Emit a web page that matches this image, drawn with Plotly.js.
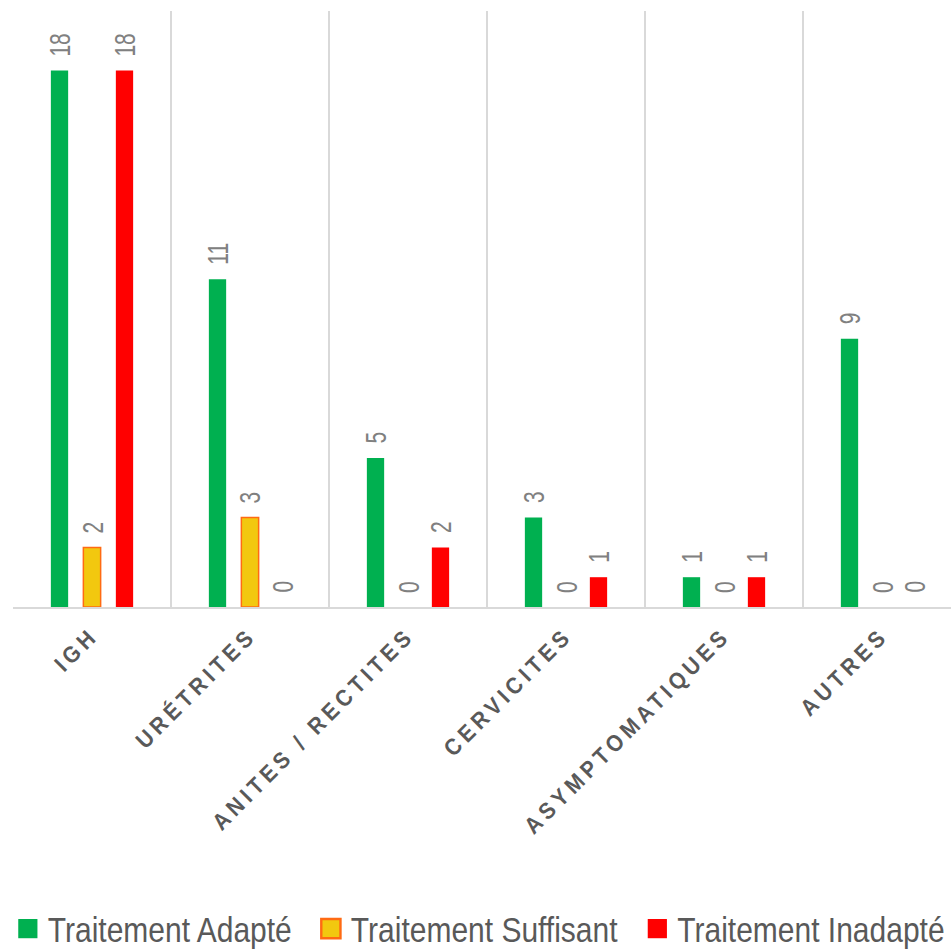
<!DOCTYPE html>
<html>
<head>
<meta charset="utf-8">
<script src="https://cdn.plot.ly/plotly-3.0.1.min.js"></script>
<style>
  html, body { margin: 0; padding: 0; background: #ffffff; overflow: hidden; }
  #chart { width: 961px; height: 950px; }
  /* spaced-out capitals on the category labels */
  .xtick text { letter-spacing: 4.5px; }
</style>
</head>
<body>
<div id="chart"></div>
<script>
// Categories (x axis) and the three treatment series
const categories = ['IGH', 'URÉTRITES', 'ANITES / RECTITES', 'CERVICITES', 'ASYMPTOMATIQUES', 'AUTRES'];
const adapte    = [18, 11, 5, 3, 1, 9];
const suffisant = [2, 3, 0, 0, 0, 0];
const inadapte  = [18, 0, 2, 1, 1, 0];

const seriesNames = ['Traitement Adapté', 'Traitement Suffisant', 'Traitement Inadapté'];
const seriesValues = [adapte, suffisant, inadapte];
const fillColors = ['#00b050', '#f2c80f', '#ff0000'];
const lineColors = ['#00b050', '#ff6a13', '#ff0000'];
const lineWidths = [0, 1.5, 0];

const BARGAP = 0.383;
const BARGROUPGAP = 0.468;

const traces = seriesValues.map((vals, k) => ({
  type: 'bar',
  name: seriesNames[k],
  x: categories,
  y: vals,
  marker: {
    color: fillColors[k],
    // no outline on empty bars, so nothing shows on the baseline
    line: { color: lineColors[k], width: vals.map(v => (v > 0 ? lineWidths[k] : 0)) }
  },
  hoverinfo: 'skip'
}));

// Value labels, rotated, sitting above each bar of the group
const slot = (1 - BARGAP) / seriesValues.length;
const annotations = [];
seriesValues.forEach((vals, k) => {
  vals.forEach((v, i) => {
    annotations.push({
      x: i + (k - (seriesValues.length - 1) / 2) * slot,
      y: v,
      xref: 'x', yref: 'y',
      text: String(v),
      showarrow: false,
      textangle: -90,
      xanchor: 'center',
      yanchor: 'bottom',
      yshift: 12,
      font: { family: 'Liberation Sans, Arial, sans-serif', size: 21, color: '#808080' }
    });
  });
});

const layout = {
  width: 961,
  height: 950,
  margin: { l: 13, r: 0, t: 11, b: 343 },
  paper_bgcolor: '#ffffff',
  plot_bgcolor: '#ffffff',
  barmode: 'group',
  bargap: BARGAP,
  bargroupgap: BARGROUPGAP,
  showlegend: true,
  xaxis: {
    type: 'category',
    tickson: 'boundaries',
    showgrid: true,
    gridcolor: '#d9d9d9',
    gridwidth: 1.5,
    showline: true,
    linecolor: '#d9d9d9',
    linewidth: 1.5,
    ticks: '',
    tickangle: -45,
    ticklabelstandoff: 6,
    tickfont: { family: 'Liberation Sans, Arial, sans-serif', size: 21, color: '#595959', weight: 'bold' },
    zeroline: false,
    fixedrange: true
  },
  yaxis: {
    range: [0, 20],
    showgrid: false,
    zeroline: false,
    showline: false,
    showticklabels: false,
    ticks: '',
    fixedrange: true
  },
  legend: {
    orientation: 'h',
    xref: 'container',
    x: 0.004,
    xanchor: 'left',
    yref: 'container',
    y: 0.0225,
    yanchor: 'middle',
    font: { family: 'Liberation Sans, Arial, sans-serif', size: 30, color: '#595959' },
    itemclick: false,
    itemdoubleclick: false
  },
  annotations: annotations
};

// Stretch a text element vertically about its own centre (narrow, tall lettering)
function stretchY(el, k) {
  const b = el.getBBox();
  const cx = b.x + b.width / 2, cy = b.y + b.height / 2;
  const prev = el.getAttribute('transform') || '';
  el.setAttribute('transform', prev + ` translate(${cx},${cy}) scale(1,${k}) translate(${-cx},${-cy})`);
}

// extra room between legend entries
const LEGEND_SHIFT0 = 4;
const LEGEND_SPACING_EXTRA = 14;

Plotly.newPlot('chart', traces, layout, { displayModeBar: false, staticPlot: true }).then(gd => {
  // let the stretched legend text overflow its box
  gd.querySelectorAll('.legend [clip-path]').forEach(el => el.removeAttribute('clip-path'));
  // bigger legend swatches
  gd.querySelectorAll('.legendpoints path').forEach(p => {
    const prev = p.getAttribute('transform') || '';
    p.setAttribute('transform', prev + ' scale(1.6)');
  });
  gd.querySelectorAll('.legend .traces').forEach((g, k) => {
    const prev = g.getAttribute('transform') || '';
    g.setAttribute('transform', prev + ` translate(${LEGEND_SHIFT0 + k * LEGEND_SPACING_EXTRA},0)`);
  });
  gd.querySelectorAll('.legendtext').forEach(t => stretchY(t, 1.18));
  gd.querySelectorAll('.annotation-text').forEach(t => stretchY(t, 1.4));
  gd.querySelectorAll('.xtick text').forEach(t => stretchY(t, 1.1));
});
</script>
</body>
</html>
